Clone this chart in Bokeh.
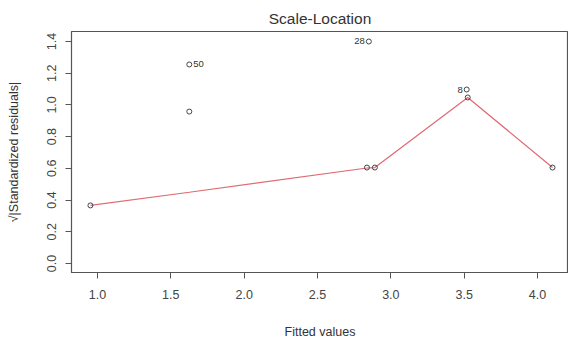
from bokeh.plotting import figure
from bokeh.models import FixedTicker, Range1d, Label
from bokeh.embed import file_html
from bokeh.resources import INLINE

# Fitted values and sqrt(|standardized residuals|)
fitted = [0.952, 1.626, 1.626, 2.837, 2.850, 2.891, 3.517, 3.524, 4.102]
sqrt_resid = [0.366, 0.958, 1.255, 0.605, 1.400, 0.605, 1.097, 1.047, 0.605]

# Smoothed trend through the residuals
smooth_x = [0.952, 1.626, 2.837, 2.850, 2.891, 3.524, 4.102]
smooth_y = [0.366, 0.449, 0.602, 0.603, 0.605, 1.047, 0.605]

# Labelled observations
obs_x = [1.626, 2.850, 3.517]
obs_y = [1.255, 1.400, 1.097]
obs_id = ["50", "28", "8"]
obs_side = ["right", "left", "left"]

x_ticks = [1.0, 1.5, 2.0, 2.5, 3.0, 3.5, 4.0]
y_ticks = [0.0, 0.2, 0.4, 0.6, 0.8, 1.0, 1.2, 1.4]

FONT = "Liberation Sans"
INK = "#333333"

p = figure(width=568, height=341, output_backend="svg", toolbar_location=None,
           x_range=Range1d(0.823, 4.211), y_range=Range1d(-0.057, 1.463),
           min_border_left=71, min_border_right=0, min_border_top=31,
           min_border_bottom=69)

p.title.text = "Scale-Location"
p.title.align = "center"
p.title.text_font = FONT
p.title.text_font_size = "15.5px"
p.title.text_font_style = "normal"
p.title.text_color = INK

p.grid.visible = False
p.outline_line_color = "#555555"
p.outline_line_width = 1.2
p.background_fill_color = "white"
p.border_fill_color = "white"

for ax in (p.xaxis[0], p.yaxis[0]):
    ax.axis_line_color = "#555555"
    ax.major_tick_line_color = "#555555"
    ax.major_tick_in = 0
    ax.major_tick_out = 6
    ax.minor_tick_line_color = None
    ax.major_label_text_font = FONT
    ax.major_label_text_font_size = "12.5px"
    ax.major_label_text_color = "#444444"
    ax.axis_label_text_font = FONT
    ax.axis_label_text_font_size = "12.5px"
    ax.axis_label_text_font_style = "normal"
    ax.axis_label_text_color = INK

p.xaxis.ticker = FixedTicker(ticks=x_ticks)
p.yaxis.ticker = FixedTicker(ticks=y_ticks)
p.xaxis.major_label_overrides = {t: f"{t:.1f}" for t in x_ticks}
p.yaxis.major_label_overrides = {t: f"{t:.1f}" for t in y_ticks}
p.yaxis.major_label_orientation = "vertical"
p.xaxis.major_label_standoff = 11
p.yaxis.major_label_standoff = 9
p.xaxis.axis_label = "Fitted values"
p.yaxis.axis_label = "√|Standardized residuals|"
p.xaxis.axis_label_standoff = 23
p.yaxis.axis_label_standoff = 24

p.line(smooth_x, smooth_y, line_color="#e06a72", line_width=1.2)
p.scatter(fitted, sqrt_resid, size=5, marker="circle", fill_color=None,
          line_color="#444444", line_width=1)

for x, y, t, side in zip(obs_x, obs_y, obs_id, obs_side):
    p.add_layout(Label(x=x, y=y, text=t, x_offset=4 if side == "right" else -4,
                       text_align="left" if side == "right" else "right",
                       text_baseline="middle", text_font=FONT,
                       text_font_size="9.5px", text_color=INK))

open("out.html", "w").write(file_html(p, INLINE))
